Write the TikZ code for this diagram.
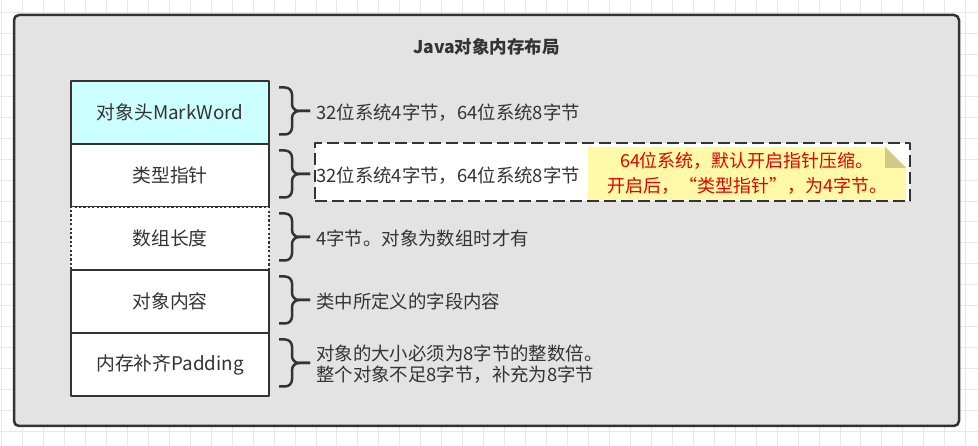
\documentclass[tikz,border=0pt]{standalone}
\usepackage{fontspec}
\newfontfamily\cjk{Noto Sans CJK SC}
\usepackage{xcolor}
\usepackage{tikz}
\usetikzlibrary{
    calc,
    positioning
}
\definecolor{ink}     {HTML}{333333}
\definecolor{gridgray}{HTML}{E8E8E8}
\definecolor{panelbg} {HTML}{E3E3E3}
\definecolor{headbg}  {HTML}{CCFFFF}
\definecolor{notebg}  {HTML}{FFF9A8}
\definecolor{notefold}{HTML}{CFCB84}
\definecolor{notered} {HTML}{E60000}

\begin{document}
\begin{tikzpicture}[
    x=1pt, y=-1pt,
    line join=round,
    %% --- semantic styles ---
    gridline/.style  = {draw=gridgray, line width=0.8pt},
    panel/.style     = {rectangle, draw=ink, fill=panelbg, line width=2.5pt,
                        rounded corners=5pt, minimum width=945pt,
                        minimum height=411pt, inner sep=0pt},
    titletext/.style = {font=\cjk\bfseries\fontsize{17.5}{21}\selectfont,
                        text=ink, inner sep=0pt},
    cellbox/.style   = {rectangle, draw=ink, fill=white, line width=2.5pt,
                        minimum width=198pt, minimum height=63pt,
                        inner sep=0pt, outer sep=0pt, text=ink,
                        font=\cjk\fontsize{18.8}{22}\selectfont},
    optcell/.style   = {cellbox, line width=2.3pt, dash pattern=on 2.2pt off 2.2pt},
    desctext/.style  = {anchor=west, inner sep=0pt, align=left, text=ink,
                        font=\cjk\fontsize{18.4}{21}\selectfont},
    dashbox/.style   = {rectangle, draw=ink, fill=white, line width=2.5pt,
                        dash pattern=on 12pt off 5pt, minimum width=595pt,
                        minimum height=58pt, inner sep=0pt},
    notebox/.style   = {rectangle, minimum width=318pt, minimum height=53pt,
                        inner sep=0pt, align=center, text=notered,
                        font=\cjk\fontsize{18}{25}\selectfont,
                        path picture={
                            \fill[notebg] (path picture bounding box.north west)
                                -- ([xshift=-21pt]path picture bounding box.north east)
                                -- ([yshift=-21pt]path picture bounding box.north east)
                                -- (path picture bounding box.south east)
                                -- (path picture bounding box.south west) -- cycle;
                            \fill[notefold] ([xshift=-21pt]path picture bounding box.north east)
                                -- ([xshift=-21pt,yshift=-21pt]path picture bounding box.north east)
                                -- ([yshift=-21pt]path picture bounding box.north east) -- cycle;
                        }},
    bracepath/.style = {draw=ink, line width=2.5pt, rounded corners=7pt}
]

\useasboundingbox (0,0) rectangle (978,446);
\fill[white] (0,0) rectangle (978,446);

%% =====================================================
%% Canvas grid
%% =====================================================
\foreach \i in {0,...,46}
    \draw[gridline] (1.5+20.96*\i, 0) -- (1.5+20.96*\i, 446);
\foreach \j in {0,...,20}
    \draw[gridline] (0, 12.3+20.96*\j) -- (978, 12.3+20.96*\j);

%% =====================================================
%% Panel and title
%% =====================================================
\node[panel] (PANEL) at (486.5, 220.5) {};
\node[titletext] (TITLE) at (486.5, 47) {Java对象内存布局};

%% =====================================================
%% Object layout — stacked cells
%% =====================================================
\node[cellbox, fill=headbg] (MW) at (170, 112.5) {对象头MarkWord};
\node[cellbox, below=0pt of MW] (KP) {类型指针};
\node[optcell, below=0pt of KP] (AL) {数组长度};
\node[cellbox, below=0pt of AL] (CT) {对象内容};
\node[cellbox, below=0pt of CT] (PD) {内存补齐Padding};

% Braces from every cell to its description
\foreach \B in {MW, KP, AL, CT, PD} {
    \draw[bracepath] ($(\B.east)+(10,-25)$) -- ++(13,0) |- ($(\B.east)+(41,-1.5)$);
    \draw[bracepath] ($(\B.east)+(10,22)$) -- ++(13,0) |- ($(\B.east)+(41,-1.5)$);
}

%% =====================================================
%% Descriptions
%% =====================================================
\node[desctext, right=47pt of MW] (MWd) {32位系统4字节，64位系统8字节};

\node[dashbox] (KPbox) at (612.5, 172) {};
\node[desctext, right=47pt of KP] (KPd) {32位系统4字节，64位系统8字节};
\node[notebox] (NOTE) at (747, 173.5)
    {64位系统，默认开启指针压缩。\\开启后，“类型指针”，为4字节。};

\node[desctext, right=47pt of AL] (ALd) {4字节。对象为数组时才有};
\node[desctext, right=47pt of CT] (CTd) {类中所定义的字段内容};
\node[desctext, right=47pt of PD] (PDd)
    {对象的大小必须为8字节的整数倍。\\整个对象不足8字节，补充为8字节};

\end{tikzpicture}
\end{document}
